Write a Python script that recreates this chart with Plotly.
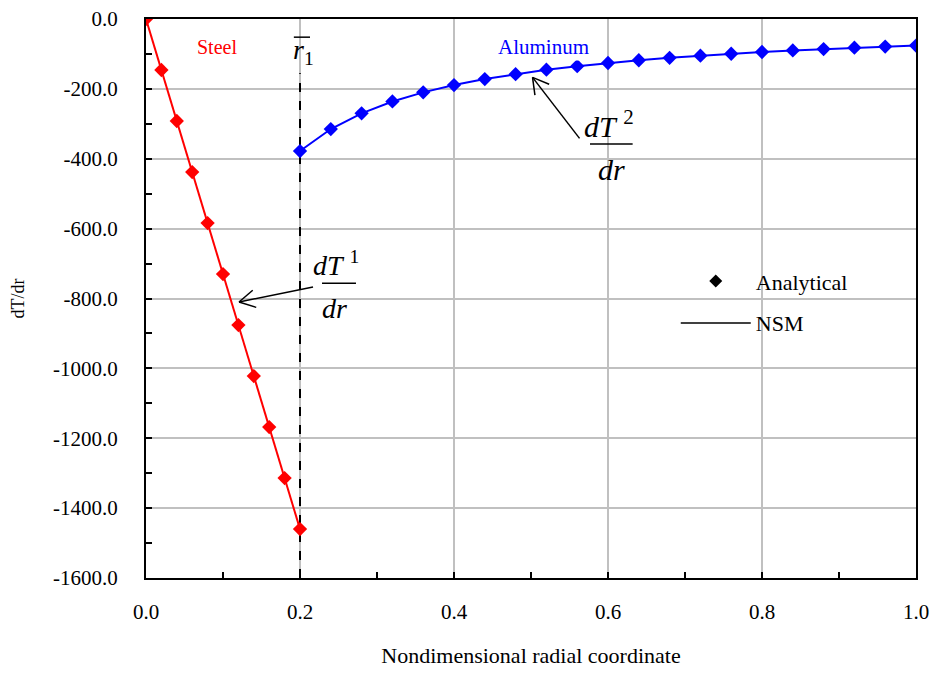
import plotly.graph_objects as go

# ---- data ----
steel_r = [0.0, 0.02, 0.04, 0.06, 0.08, 0.10, 0.12, 0.14, 0.16, 0.18, 0.20]
steel_dTdr = [0.0, -146.0, -292.0, -438.0, -584.0, -730.0, -876.0, -1022.0, -1168.0, -1314.0, -1460.0]

alu_r = [0.20, 0.24, 0.28, 0.32, 0.36, 0.40, 0.44, 0.48, 0.52, 0.56, 0.60,
         0.64, 0.68, 0.72, 0.76, 0.80, 0.84, 0.88, 0.92, 0.96, 1.00]
alu_dTdr = [-378.0, -315.0, -270.0, -236.0, -210.0, -189.0, -172.0, -158.0, -145.0, -135.0, -126.0,
            -118.0, -111.0, -105.0, -99.5, -94.5, -90.0, -86.0, -82.0, -79.0, -76.0]

interface_r = [0.2, 0.2]
interface_y = [-1600.0, -155.0]

x_tickvals = [0.0, 0.2, 0.4, 0.6, 0.8, 1.0]
x_ticktext = ["0.0", "0.2", "0.4", "0.6", "0.8", "1.0"]
y_tickvals = [0, -200, -400, -600, -800, -1000, -1200, -1400, -1600]
y_ticktext = ["0.0", "-200.0", "-400.0", "-600.0", "-800.0", "-1000.0", "-1200.0", "-1400.0", "-1600.0"]

FONT = "Liberation Serif, Times New Roman, serif"

fig = go.Figure()

# dashed interface line
fig.add_trace(go.Scatter(x=interface_r, y=interface_y, mode="lines",
                         line=dict(color="black", width=2, dash="dash"),
                         showlegend=False, hoverinfo="skip"))

fig.add_trace(go.Scatter(x=steel_r, y=steel_dTdr, mode="lines+markers",
                         line=dict(color="#ff0000", width=2),
                         marker=dict(symbol="diamond", size=11, color="#ff0000"),
                         showlegend=False))
fig.add_trace(go.Scatter(x=alu_r, y=alu_dTdr, mode="lines+markers",
                         line=dict(color="#0000ff", width=2),
                         marker=dict(symbol="diamond", size=11, color="#0000ff"),
                         showlegend=False))

# legend dummies
fig.add_trace(go.Scatter(x=[None], y=[None], mode="markers", name="Analytical",
                         marker=dict(symbol="diamond", size=10, color="black"),
                         legend="legend"))
fig.add_trace(go.Scatter(x=[None], y=[None], mode="lines", name="NSM",
                         line=dict(color="black", width=1.5),
                         legend="legend2"))

anns = []
# labels
anns.append(dict(x=0.092, y=-80, xref="x", yref="y", text="Steel", showarrow=False,
                 font=dict(family=FONT, size=20, color="#ff0000"), bgcolor="white"))
anns.append(dict(x=0.516, y=-80, xref="x", yref="y", text="Aluminum", showarrow=False,
                 font=dict(family=FONT, size=21, color="#0000ff"), bgcolor="white"))
anns.append(dict(x=0.204, y=-92, xref="x", yref="y", text="<i>r</i><sub>1</sub>", showarrow=False,
                 font=dict(family=FONT, size=28, color="black")))

# fraction dT1/dr
anns.append(dict(x=0.247, y=-700, xref="x", yref="y", text="<i>dT</i> <sup>1</sup>", showarrow=False,
                 font=dict(family=FONT, size=28, color="black")))
anns.append(dict(x=0.245, y=-830, xref="x", yref="y", text="<i>dr</i>", showarrow=False,
                 font=dict(family=FONT, size=28, color="black")))
# fraction dT2/dr
anns.append(dict(x=0.601, y=-300, xref="x", yref="y", text="<i>dT</i> <sup>2</sup>", showarrow=False,
                 font=dict(family=FONT, size=30, color="black")))
anns.append(dict(x=0.605, y=-430, xref="x", yref="y", text="<i>dr</i>", showarrow=False,
                 font=dict(family=FONT, size=30, color="black")))

line_style = dict(color="black", width=1.5)
shapes = [
    # fraction bars
    dict(type="line", xref="x", yref="y", x0=0.2286, x1=0.2727, y0=-756, y1=-756, line=line_style),
    dict(type="line", xref="x", yref="y", x0=0.5766, x1=0.632, y0=-358, y1=-358, line=line_style),
    # overline on r1
    dict(type="line", xref="x", yref="y", x0=0.192, x1=0.213, y0=-52, y1=-52, line=line_style),
]


def open_arrow(tipx, tipy, segs):
    out = []
    for dx, dy in segs:
        out.append(dict(type="line", xref="x", yref="y", xsizemode="pixel", ysizemode="pixel",
                        xanchor=tipx, yanchor=tipy, x0=0, y0=0, x1=dx, y1=dy, line=line_style))
    return out


# arrow to steel curve (shaft + two barbs, pixel offsets from tip)
shapes += open_arrow(0.1208, -810, [(74, 15), (13.7, 11.7), (17.2, -5.4)])
# arrow to aluminum curve
shapes += open_arrow(0.502, -167, [(47, -61), (2.4, -17.8), (16.6, -6.9)])

fig.update_layout(
    width=922, height=660,
    margin=dict(l=138, r=14, t=11, b=90, autoexpand=False),
    paper_bgcolor="white", plot_bgcolor="white",
    font=dict(family=FONT, size=21, color="black"),
    annotations=anns, shapes=shapes,
    legend=dict(x=0.688, y=0.531, xanchor="left", yanchor="middle",
                font=dict(family=FONT, size=22), bgcolor="rgba(0,0,0,0)", itemwidth=70),
    legend2=dict(x=0.688, y=0.456, xanchor="left", yanchor="middle",
                 font=dict(family=FONT, size=22), bgcolor="rgba(0,0,0,0)", itemwidth=70),
)

fig.update_xaxes(range=[0, 1], tickvals=x_tickvals, ticktext=x_ticktext,
                 showgrid=True, gridcolor="#c0c0c0", gridwidth=1.5,
                 showline=True, linecolor="black", linewidth=2, mirror=True,
                 ticks="inside", ticklen=6, tickwidth=2, tickcolor="black",
                 minor=dict(dtick=0.1, tick0=0, ticks="inside", ticklen=6, tickwidth=2, tickcolor="black", showgrid=False),
                 ticklabelstandoff=14, zeroline=False, automargin=False, ticklabeloverflow="allow",
                 title=dict(text="Nondimensional radial coordinate", font=dict(size=22), standoff=41))
fig.update_yaxes(range=[-1600, 0], tickvals=y_tickvals, ticktext=y_ticktext,
                 showgrid=True, gridcolor="#c0c0c0", gridwidth=1.5,
                 showline=True, linecolor="black", linewidth=2, mirror=True,
                 ticks="inside", ticklen=6, tickwidth=2, tickcolor="black",
                 minor=dict(dtick=100, tick0=0, ticks="inside", ticklen=6, tickwidth=2, tickcolor="black", showgrid=False),
                 ticklabelstandoff=22, zeroline=False, automargin=False, ticklabeloverflow="allow",
                 title=dict(text="dT/dr", font=dict(size=18), standoff=26))

fig.write_html("out.html")
